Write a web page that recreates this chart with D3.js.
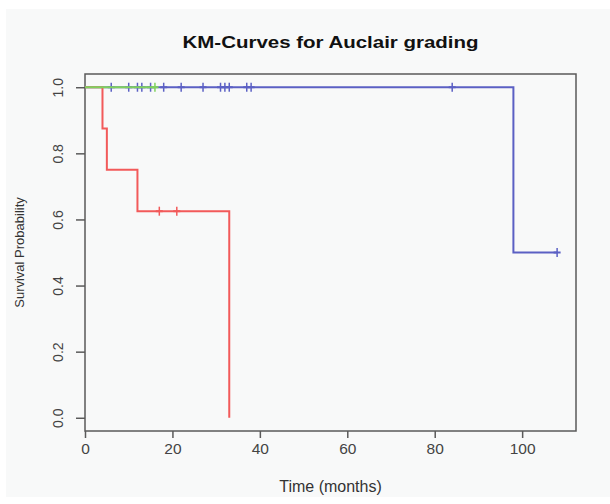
<!DOCTYPE html>
<html>
<head>
<meta charset="utf-8">
<script src="https://cdn.jsdelivr.net/npm/d3@7/dist/d3.min.js"></script>
<style>
  html, body { margin: 0; padding: 0; background: #fff; }
  svg { display: block; font-family: "Liberation Sans", Arial, sans-serif; }
</style>
</head>
<body>
<svg id="chart" width="610" height="504"></svg>
<script>
// Kaplan-Meier steps per grade (time in months, survival probability)
const redTimes = [0, 4, 5, 12, 33];
const redSurv = [1, 0.875, 0.75, 0.625, 0];
const redCensor = [17, 21];

const greenTimes = [0, 16];
const greenSurv = [1, 1];
const greenCensor = [16];

const blueTimes = [0, 98, 108];
const blueSurv = [1, 0.5, 0.5];
const blueCensor = [6, 10, 12, 13, 15, 18, 22, 27, 31, 32, 33, 37, 38, 84, 108];

const xTicks = [0, 20, 40, 60, 80, 100];
const yTicks = [0, 0.2, 0.4, 0.6, 0.8, 1.0];

const title = 'KM-Curves for Auclair grading';
const xLabel = 'Time (months)';
const yLabel = 'Survival Probability';

const margin = { top: 74, right: 34, bottom: 73, left: 85 };
const width = 610, height = 504;
const innerW = width - margin.left - margin.right;
const innerH = height - margin.top - margin.bottom;

const svg = d3.select('#chart');

// faint panel behind the plot, like the screenshot
svg.append('rect')
  .attr('x', 6).attr('y', 9)
  .attr('width', 604).attr('height', 488)
  .attr('fill', '#f8f9f9');

const g = svg.append('g')
  .attr('transform', `translate(${margin.left},${margin.top})`);

const x = d3.scaleLinear().domain([0, 112.32]).range([0, innerW]);
const y = d3.scaleLinear().domain([-0.04, 1.04]).range([innerH, 0]);

// Box
g.append('rect')
  .attr('width', innerW).attr('height', innerH)
  .attr('fill', 'none')
  .attr('stroke', '#5a5a5a')
  .attr('stroke-width', 1.5);

// Axes
const xAxis = g.append('g')
  .attr('transform', `translate(0,${innerH})`)
  .call(d3.axisBottom(x).tickValues(xTicks).tickSize(7).tickPadding(5).tickFormat(d3.format('d')));
xAxis.select('.domain').remove();
xAxis.selectAll('line').attr('stroke', '#5a5a5a').attr('stroke-width', 1.5);
xAxis.selectAll('text')
  .attr('font-size', 15.5)
  .attr('fill', '#444')
  .attr('font-family', '"Liberation Sans", Arial, sans-serif');

const yAxis = g.append('g')
  .call(d3.axisLeft(y).tickValues(yTicks).tickSize(9).tickFormat(d3.format('.1f')));
yAxis.select('.domain').remove();
yAxis.selectAll('line').attr('stroke', '#5a5a5a').attr('stroke-width', 1.5);
yAxis.selectAll('text')
  .attr('font-size', 14)
  .attr('fill', '#444')
  .attr('font-family', '"Liberation Sans", Arial, sans-serif')
  .attr('text-anchor', 'middle')
  .attr('x', null)
  .attr('transform', 'translate(-27,0) rotate(-90)')
  .attr('dy', '0.35em');

// Survival curves
const line = d3.line()
  .x((d) => x(d[0]))
  .y((d) => y(d[1]))
  .curve(d3.curveStepAfter);

const curves = [
  { times: blueTimes, surv: blueSurv, censor: blueCensor, color: '#5b60c4' },
  { times: redTimes, surv: redSurv, censor: redCensor, color: '#f25a5a' },
  { times: greenTimes, surv: greenSurv, censor: greenCensor, color: '#7fd35c' },
];

function survAt(c, t) {
  let s = c.surv[0];
  c.times.forEach((ti, i) => { if (ti <= t) s = c.surv[i]; });
  return s;
}

curves.forEach((c) => {
  g.append('path')
    .datum(c.times.map((t, i) => [t, c.surv[i]]))
    .attr('fill', 'none')
    .attr('stroke', c.color)
    .attr('stroke-width', 2)
    .attr('d', line);

  // censor marks as "+"
  const m = g.append('g').selectAll('g')
    .data(c.censor)
    .join('g')
    .attr('transform', (d) => `translate(${x(d)},${y(survAt(c, d))})`);
  m.append('line')
    .attr('x1', 0).attr('x2', 0).attr('y1', -4.5).attr('y2', 4.5)
    .attr('stroke', c.color).attr('stroke-width', 1.5);
  m.append('line')
    .attr('x1', -3.5).attr('x2', 3.5).attr('y1', 0).attr('y2', 0)
    .attr('stroke', c.color).attr('stroke-width', 2);
});

// Titles
svg.append('text')
  .attr('x', margin.left + innerW / 2)
  .attr('y', 48)
  .attr('text-anchor', 'middle')
  .attr('font-size', 17)
  .attr('font-weight', 'bold')
  .attr('fill', '#111')
  .attr('textLength', 296)
  .attr('lengthAdjust', 'spacingAndGlyphs')
  .text(title);

svg.append('text')
  .attr('x', margin.left + innerW / 2)
  .attr('y', 492)
  .attr('text-anchor', 'middle')
  .attr('font-size', 16)
  .attr('fill', '#333')
  .text(xLabel);

svg.append('text')
  .attr('transform', `translate(24,${margin.top + innerH / 2}) rotate(-90)`)
  .attr('text-anchor', 'middle')
  .attr('font-size', 13)
  .attr('fill', '#333')
  .text(yLabel);
</script>
</body>
</html>
